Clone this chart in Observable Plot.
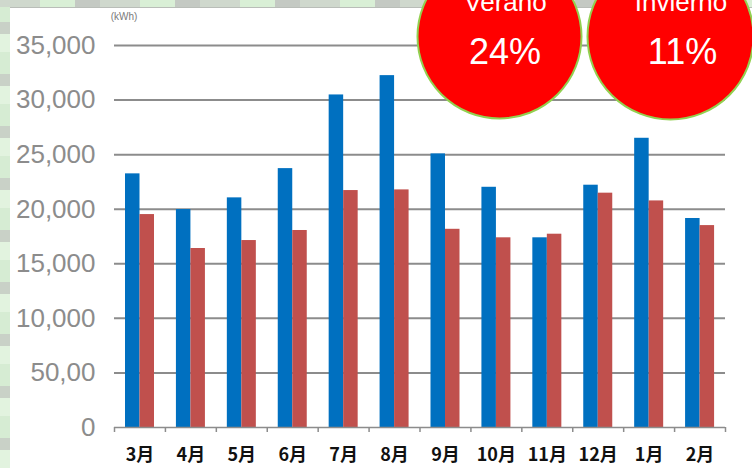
<!DOCTYPE html>
<html>
<head>
<meta charset="utf-8">
<script src="https://cdn.jsdelivr.net/npm/d3@7"></script>
<script src="https://cdn.jsdelivr.net/npm/@observablehq/plot@0.6"></script>
<style>
  html, body { margin: 0; padding: 0; }
  body { width: 752px; height: 468px; overflow: hidden; }
  #wrap {
    position: relative; width: 752px; height: 468px;
    background:
      repeating-linear-gradient(180deg, #d6ecd3 0px, #d6ecd3 22px, #c9d1c7 22px, #c9d1c7 34px, #e2f3df 34px, #e2f3df 52px);
  }
  #topstrip {
    position: absolute; left: 0; top: 0; right: 0; height: 7px;
    background: repeating-linear-gradient(90deg, #cfd8cd 0px, #cfd8cd 40px, #d9efd6 40px, #d9efd6 75px, #c4c9c3 75px, #c4c9c3 100px);
  }
  #sheet {
    position: absolute; left: 10px; top: 7px; right: 0; bottom: 0;
    background: #ffffff; border-top: 1px solid #b9bdb8;
  }
  #chart { position: absolute; left: 0; top: 0; }
</style>
</head>
<body>
<div id="wrap"><div id="topstrip"></div><div id="sheet"></div><div id="chart"></div></div>
<script>
const months = ["3月","4月","5月","6月","7月","8月","9月","10月","11月","12月","1月","2月"];
const blueValues = [23240, 19970, 21040, 23720, 30470, 32240, 25070, 22010, 17380, 22200, 26500, 19150];
const redValues  = [19510, 16400, 17130, 18050, 21710, 21770, 18160, 17380, 17710, 21470, 20760, 18500];
const yTicks = [0, 5000, 10000, 15000, 20000, 25000, 30000, 35000];
const yTickLabels = ["0", "50,00", "10,000", "15,000", "20,000", "25,000", "30,000", "35,000"];
const unitLabel = "(kWh)";
const seasons = ["Verano", "Invierno"];
const seasonPercents = ["24%", "11%"];

const blueData = months.map((m, i) => ({month: m, value: blueValues[i]}));
const redData = months.map((m, i) => ({month: m, value: redValues[i]}));

const W = 752, H = 468, ML = 114, MR = 27, MT = 45, MB = 41;
const bw = (W - ML - MR) / months.length;
const grid = "#8c8c8c";
const sans = "'Liberation Sans', Arial, sans-serif";
const centered = {textAnchor: "middle", lineAnchor: "middle"};

const plot = Plot.plot({
  width: W, height: H,
  marginLeft: ML, marginRight: MR, marginTop: MT, marginBottom: MB,
  style: {background: "transparent", overflow: "visible"},
  x: {domain: months, padding: 0, round: false, axis: null, label: null},
  y: {domain: [0, 35000], axis: null, label: null},
  marks: [
    Plot.ruleY(yTicks.filter(t => t > 0), {stroke: grid, strokeWidth: 2}),
    Plot.barY(blueData, {x: "month", y: "value", fill: "#0070c0", insetLeft: 11, insetRight: bw - 25.5}),
    Plot.barY(redData, {x: "month", y: "value", fill: "#c0504d", insetLeft: 25.5, insetRight: bw - 40}),
    Plot.ruleY([0], {stroke: grid, strokeWidth: 1.5}),
    Plot.ruleX(months, {x: d => d, y1: 0, y2: 0, insetBottom: -5, dx: -bw / 2, stroke: grid, strokeWidth: 1.5}),
    Plot.ruleX([months[months.length - 1]], {x: d => d, y1: 0, y2: 0, insetBottom: -5, dx: bw / 2, stroke: grid, strokeWidth: 1.5}),
    Plot.axisX({label: null, tickSize: 0, tickPadding: 21, fontSize: 18, fontWeight: "bold", fill: "#111", fontFamily: "'Noto Sans CJK JP', sans-serif"}),
    Plot.axisY({label: null, ticks: yTicks, tickFormat: d => yTickLabels[yTicks.indexOf(d)], tickSize: 0, tickPadding: 19, fontSize: 26, fill: "#8c8c8c", fontFamily: sans}),
    Plot.text([unitLabel], {text: d => d, frameAnchor: "top-left", ...centered, dx: 9.5, dy: -29, fontSize: 10, fill: "#7a7a7a", fontFamily: sans}),
    // season circles
    Plot.dot([seasons[0]], {frameAnchor: "top-right", dx: -226, dy: -9, r: 82, fill: "#ff0000", stroke: "#92d050", strokeWidth: 2}),
    Plot.dot([seasons[1]], {frameAnchor: "top-right", dx: -55, dy: -9, r: 83, fill: "#ff0000", stroke: "#92d050", strokeWidth: 2}),
    Plot.text([seasons[0]], {text: d => d, frameAnchor: "top-right", ...centered, dx: -220, dy: -43.3, fontSize: 26, fill: "white", fontFamily: sans}),
    Plot.text([seasons[1]], {text: d => d, frameAnchor: "top-right", ...centered, dx: -44.5, dy: -43.3, fontSize: 26, fill: "white", fontFamily: sans}),
    Plot.text([seasonPercents[0]], {text: d => d, frameAnchor: "top-right", ...centered, dx: -220.5, dy: 6.5, fontSize: 36, fill: "white", fontFamily: sans}),
    Plot.text([seasonPercents[1]], {text: d => d, frameAnchor: "top-right", ...centered, dx: -43, dy: 6.5, fontSize: 36, fill: "white", fontFamily: sans})
  ]
});
document.getElementById("chart").appendChild(plot);
</script>
</body>
</html>
